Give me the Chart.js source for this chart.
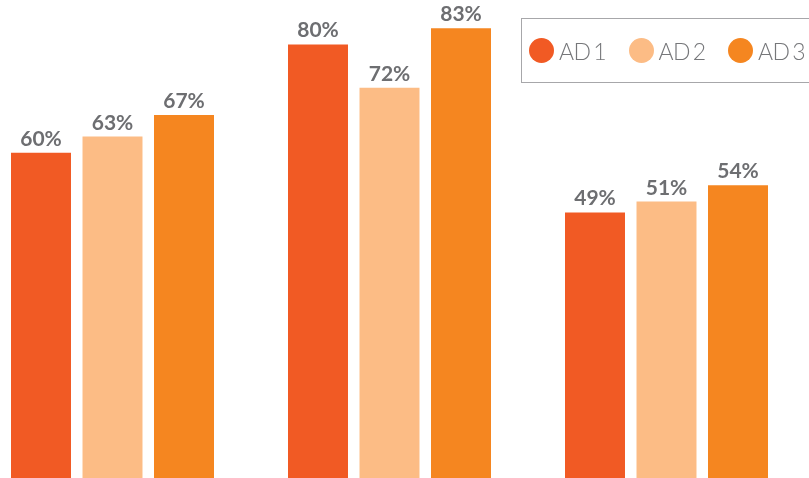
<!DOCTYPE html>
<html>
<head>
<meta charset="utf-8">
<script src="https://cdn.jsdelivr.net/npm/chart.js@4/dist/chart.umd.min.js"></script>
<style>
  html, body { margin: 0; padding: 0; background: #fff; overflow: hidden; }
  #wrap { position: relative; width: 809px; height: 478px; overflow: hidden; }
  #c { position: absolute; left: -26px; top: 0; }
  #legend {
    position: absolute; left: 521px; top: 18px; width: 320px; height: 65px;
    border: 1px solid #a7a7aa; box-sizing: border-box; display: flex; align-items: center;
    padding-left: 7px; font-family: Lato, sans-serif; font-size: 23px; font-weight: 300; color: #76777a;
    word-spacing: -3px; letter-spacing: -0.5px;
  }
  .item { display: flex; align-items: center; width: 99.5px; flex: none; }
  .dot { width: 25px; height: 25px; border-radius: 50%; margin-right: 5px; flex: none; }
</style>
</head>
<body>
<div id="wrap">
  <canvas id="c" width="831" height="478"></canvas>
  <div id="legend"></div>
</div>
<script>
const categories = ["Group 1", "Group 2", "Group 3"];
const seriesNames = ["AD 1", "AD 2", "AD 3"];
const ad1 = [60, 80, 49];
const ad2 = [63, 72, 51];
const ad3 = [67, 83, 54];
const colors = ["#F15A24", "#FCBC85", "#F58620"];

const seriesValues = [ad1, ad2, ad3];

const labelPlugin = {
  id: 'valueLabels',
  afterDatasetsDraw(chart) {
    const ctx = chart.ctx;
    ctx.save();
    ctx.font = "bold 21px Lato, sans-serif";
    ctx.fillStyle = "#6D6E71";
    ctx.textAlign = "center";
    ctx.textBaseline = "alphabetic";
    chart.data.datasets.forEach((ds, i) => {
      const meta = chart.getDatasetMeta(i);
      meta.data.forEach((bar, j) => {
        ctx.fillText(ds.data[j] + "%", bar.x, bar.y - 7);
      });
    });
    ctx.restore();
  }
};

new Chart(document.getElementById('c'), {
  type: 'bar',
  data: {
    labels: categories,
    datasets: seriesNames.map((n, i) => ({
      label: n,
      data: seriesValues[i],
      backgroundColor: colors[i],
      borderWidth: 0,
      categoryPercentage: 0.7744,
      barPercentage: 0.839
    }))
  },
  options: {
    responsive: false,
    animation: false,
    layout: { padding: 0 },
    plugins: { legend: { display: false }, tooltip: { enabled: false } },
    scales: {
      x: { display: false, offset: true },
      y: { display: false, min: 0, max: 88.2 }
    }
  },
  plugins: [labelPlugin]
});

const legend = document.getElementById('legend');
seriesNames.forEach((n, i) => {
  const it = document.createElement('div');
  it.className = 'item';
  const d = document.createElement('span');
  d.className = 'dot';
  d.style.background = colors[i];
  const t = document.createElement('span');
  t.textContent = n;
  it.appendChild(d); it.appendChild(t);
  legend.appendChild(it);
});
</script>
</body>
</html>
